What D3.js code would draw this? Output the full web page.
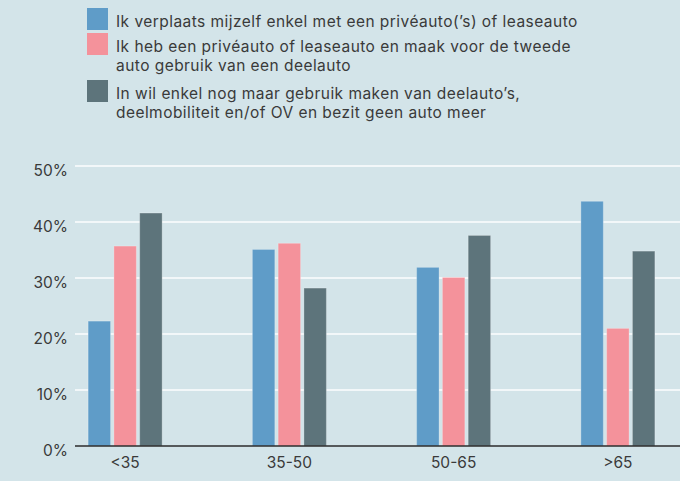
<!DOCTYPE html>
<html>
<head>
<meta charset="utf-8">
<script src="https://cdn.jsdelivr.net/npm/d3@7"></script>
<style>
  body { margin: 0; background: #d3e4e9; }
  svg { display: block; font-family: "Inter", "Noto Sans", sans-serif; }
</style>
</head>
<body>
<script>
// chart data
var groups = ["<35", "35-50", "50-65", ">65"];
var seriesKeys = ["prive", "tweede", "deel"];
var prive = [22.3, 35.1, 31.9, 43.7];
var tweede = [35.7, 36.2, 30.1, 21.0];
var deel = [41.6, 28.2, 37.6, 34.8];
var yTicks = [0, 10, 20, 30, 40, 50];
var legendLabels = [
  ["Ik verplaats mijzelf enkel met een privéauto(’s) of leaseauto"],
  ["Ik heb een privéauto of leaseauto en maak voor de tweede", "auto gebruik van een deelauto"],
  ["In wil enkel nog maar gebruik maken van deelauto’s,", "deelmobiliteit en/of OV en bezit geen auto meer"]
];
var colors = ["#5f9cc8", "#f4929b", "#5d747b"];

var rows = groups.map(function(g, i) {
  return {group: g, prive: prive[i], tweede: tweede[i], deel: deel[i]};
});

var width = 680, height = 481;
var margin = {top: 166, right: 0, bottom: 35, left: 75};

var svg = d3.select("body")
  .append("svg")
    .attr("width", width)
    .attr("height", height);

svg.append("rect")
  .attr("width", width)
  .attr("height", height)
  .attr("fill", "#d3e4e9");

var y = d3.scaleLinear()
  .domain([0, 50])
  .range([height - margin.bottom, margin.top]);

var x0 = d3.scaleBand()
  .domain(groups)
  .range([43, 700])
  .paddingInner(0)
  .paddingOuter(0);

var x1 = d3.scaleBand()
  .domain(seriesKeys)
  .range([x0.bandwidth() / 2 - 37, x0.bandwidth() / 2 + 37])
  .paddingInner(0.13);

var color = d3.scaleOrdinal().domain(seriesKeys).range(colors);

// gridlines
svg.append("g").attr("class", "grid")
  .selectAll("line")
  .data(yTicks.slice(1))
  .enter().append("line")
    .attr("x1", margin.left)
    .attr("x2", width)
    .attr("y1", function(d) { return y(d); })
    .attr("y2", function(d) { return y(d); })
    .attr("stroke", "#f2f7f9")
    .attr("stroke-width", 2);

// y axis labels
var yAxis = svg.append("g")
  .attr("transform", "translate(" + margin.left + ",0)")
  .call(d3.axisLeft(y).tickValues(yTicks).tickSize(0).tickPadding(7)
    .tickFormat(function(d) { return d + "%"; }));
yAxis.select(".domain").remove();
yAxis.selectAll("text")
  .attr("dy", "0.6em")
  .attr("font-size", 15.5)
  .attr("font-family", "Inter, sans-serif")
  .attr("fill", "#3a3a3a");

// bars
var barG = svg.append("g").attr("class", "bars");
barG.selectAll("g")
  .data(rows)
  .enter().append("g")
    .attr("transform", function(d) { return "translate(" + x0(d.group) + ",0)"; })
  .selectAll("rect")
  .data(function(d) { return seriesKeys.map(function(k) { return {key: k, value: d[k]}; }); })
  .enter().append("rect")
    .attr("x", function(d) { return x1(d.key); })
    .attr("width", x1.bandwidth())
    .attr("y", function(d) { return y(d.value); })
    .attr("height", function(d) { return y(0) - y(d.value); })
    .attr("fill", function(d) { return color(d.key); })
    .attr("stroke", "rgba(255,255,255,0.25)")
    .attr("stroke-width", 1);

// x axis
var xAxis = svg.append("g")
  .attr("transform", "translate(0," + y(0) + ")")
  .call(d3.axisBottom(x0).tickSize(0).tickPadding(11));
xAxis.select(".domain").remove();
xAxis.selectAll("text")
  .attr("dy", "0.71em")
  .attr("font-size", 15.5)
  .attr("font-family", "Inter, sans-serif")
  .attr("fill", "#3a3a3a");

svg.append("line")
  .attr("x1", margin.left)
  .attr("x2", width)
  .attr("y1", y(0))
  .attr("y2", y(0))
  .attr("stroke", "#2b2b2b")
  .attr("stroke-width", 1.5);

// legend
var legendY = [8, 33, 80];
var legend = svg.append("g").attr("class", "legend");
legendLabels.forEach(function(lines, i) {
  var g = legend.append("g").attr("transform", "translate(87," + legendY[i] + ")");
  g.append("rect")
    .attr("width", 21)
    .attr("height", 22)
    .attr("fill", colors[i]);
  var t = g.append("text")
    .attr("x", 29)
    .attr("y", 19)
    .attr("font-size", 15.5)
    .attr("letter-spacing", 0.45)
    .attr("fill", "#3a3a3a");
  lines.forEach(function(line, j) {
    t.append("tspan")
      .attr("x", 29)
      .attr("dy", j === 0 ? 0 : 19)
      .text(line);
  });
});
</script>
</body>
</html>
